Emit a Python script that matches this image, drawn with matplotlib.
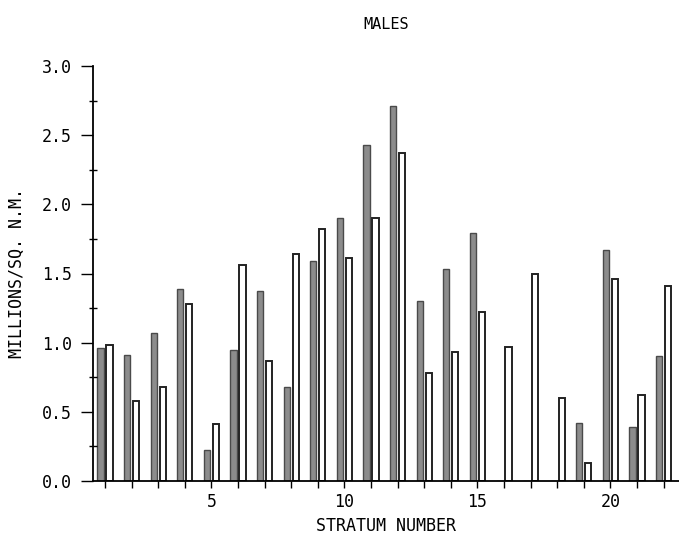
import matplotlib.pyplot as plt
from matplotlib.ticker import MultipleLocator

# stratum numbers and densities (millions / sq. n.m.)
strata = list(range(1, 23))
dark_vals = [0.96, 0.91, 1.07, 1.39, 0.22, 0.95, 1.37, 0.68, 1.59, 1.90, 2.43,
             2.71, 1.30, 1.53, 1.79, 0.0, 0.0, 0.0, 0.42, 1.67, 0.39, 0.90]
white_vals = [0.98, 0.58, 0.68, 1.28, 0.41, 1.56, 0.87, 1.64, 1.82, 1.61, 1.90,
              2.37, 0.78, 0.93, 1.22, 0.97, 1.50, 0.60, 0.13, 1.46, 0.62, 1.41]
xtick_labels = [5, 10, 15, 20]

plt.rcParams['font.family'] = ['DejaVu Sans Mono']

fig = plt.figure(figsize=(6.79, 5.47), dpi=100)
ax = fig.add_axes([0.137, 0.121, 0.863, 0.758])

off = 0.17
w = 0.23
ax.bar([s - off for s in strata], dark_vals, width=w, color='#8c8c8c',
       edgecolor='#4a4a4a', linewidth=1.0)
ax.bar([s + off for s in strata], white_vals, width=w, color='white',
       edgecolor='#222222', linewidth=1.4)

ax.set_xlim(0.55, 22.58)
ax.set_ylim(0, 3.0)

ax.spines['top'].set_visible(False)
ax.spines['right'].set_visible(False)
ax.spines['left'].set_linewidth(1.3)
ax.spines['bottom'].set_linewidth(1.3)

ax.set_xticks(strata)
ax.set_xticklabels([str(s) if s in xtick_labels else '' for s in strata])
ax.tick_params(axis='x', direction='out', length=5, width=1.0, labelsize=12, pad=4)

ax.yaxis.set_major_locator(MultipleLocator(0.5))
ax.yaxis.set_minor_locator(MultipleLocator(0.25))
ax.yaxis.set_major_formatter(plt.FuncFormatter(lambda v, p: f"{v:.1f}"))
ax.tick_params(axis='y', which='major', direction='out', length=9, width=1.0,
               labelsize=12, pad=6)
ax.tick_params(axis='y', which='minor', direction='inout', length=6, width=1.0)

ax.set_title('MALES', fontsize=11, pad=27)
ax.set_xlabel('STRATUM NUMBER', fontsize=12, labelpad=4)
ax.set_ylabel('MILLIONS/SQ. N.M.', fontsize=12, labelpad=12)

fig.savefig('out.png', dpi=100)
